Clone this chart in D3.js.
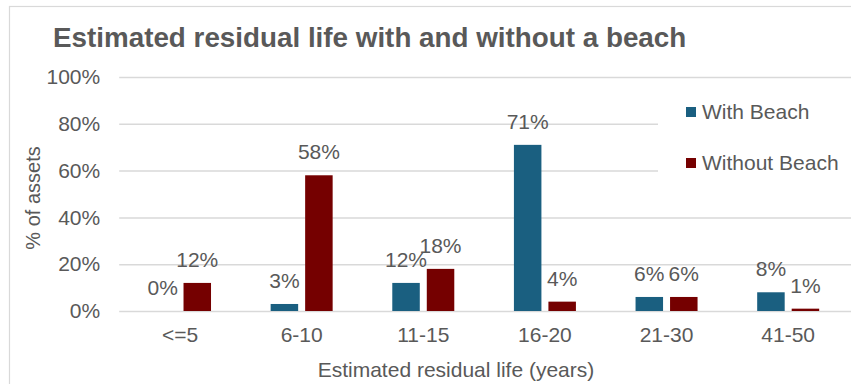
<!DOCTYPE html>
<html>
<head>
<meta charset="utf-8">
<script src="https://cdn.jsdelivr.net/npm/d3@7"></script>
<style>
  html, body { margin: 0; padding: 0; background: #fff; }
  svg { display: block; }
  text { font-family: "Liberation Sans", Arial, sans-serif; fill: #595959; }
</style>
</head>
<body>
<svg id="chart" width="851" height="384"></svg>
<script>
const categories = ["<=5", "6-10", "11-15", "16-20", "21-30", "41-50"];
const withBeach = [0, 3, 12, 71, 6, 8];
const withoutBeach = [12, 58, 18, 4, 6, 1];
const yTicks = [0, 20, 40, 60, 80, 100];
const seriesNames = ["With Beach", "Without Beach"];
const colors = ["#1a5f80", "#750000"];

const svg = d3.select("#chart");

// chart frame (cropped on right and bottom)
svg.append("rect")
  .attr("x", 9.5).attr("y", 6.5)
  .attr("width", 900).attr("height", 420)
  .attr("fill", "#fff").attr("stroke", "#d9d9d9").attr("stroke-width", 1.2);

const plot = { left: 119.2, right: 849, top: 77, bottom: 311 };

const x = d3.scaleBand().domain(categories).range([plot.left, plot.right]).padding(0);
const y = d3.scaleLinear().domain([0, 100]).range([plot.bottom, plot.top]);

// gridlines via axis
const yAxis = d3.axisLeft(y).tickValues(yTicks).tickSize(-(plot.right - plot.left + 2)).tickFormat(d => d + "%").tickPadding(19);
const gy = svg.append("g").attr("transform", `translate(${plot.left},0)`).call(yAxis);
gy.select(".domain").remove();
gy.selectAll(".tick line").attr("stroke", "#d9d9d9").attr("stroke-width", 1.5);
gy.selectAll(".tick text")
  .attr("font-size", "21px").attr("fill", "#595959")
  .style("font-family", '"Liberation Sans", Arial, sans-serif');

// x axis labels
const xAxis = d3.axisBottom(x).tickSize(0).tickPadding(16);
const gx = svg.append("g").attr("transform", `translate(0,${plot.bottom})`).call(xAxis);
gx.select(".domain").remove();
gx.selectAll(".tick text")
  .attr("font-size", "21px").attr("fill", "#595959")
  .style("font-family", '"Liberation Sans", Arial, sans-serif');

const barW = 27.5, gap = 7;
const series = [withBeach, withoutBeach];
series.forEach((vals, si) => {
  const off = si === 0 ? -(gap / 2 + barW) : gap / 2;
  const g = svg.append("g");
  g.selectAll("rect").data(vals).join("rect")
    .attr("x", (d, i) => x.bandwidth() / 2 + x(categories[i]) + off)
    .attr("y", d => y(d))
    .attr("width", barW)
    .attr("height", d => y(0) - y(d))
    .attr("fill", colors[si]);
  g.selectAll("text").data(vals).join("text")
    .attr("x", (d, i) => x.bandwidth() / 2 + x(categories[i]) + off + barW / 2)
    .attr("y", d => y(d) - 16)
    .attr("text-anchor", "middle")
    .attr("font-size", "21px")
    .text(d => d + "%");
});

// legend (white box covering gridlines)
svg.append("rect").attr("x", 658).attr("y", 90).attr("width", 200).attr("height", 110).attr("fill", "#fff");
const legY = [112, 163];
seriesNames.forEach((n, i) => {
  svg.append("rect").attr("x", 686).attr("y", legY[i] - 5).attr("width", 10).attr("height", 10).attr("fill", colors[i]);
  svg.append("text").attr("x", 702).attr("y", legY[i]).attr("dy", "0.35em")
    .attr("font-size", "21px").text(n);
});

// title
svg.append("text").attr("x", 53).attr("y", 47)
  .attr("font-size", "27.8px").attr("font-weight", "bold").text("Estimated residual life with and without a beach");

// axis titles
svg.append("text").attr("x", 456).attr("y", 377).attr("text-anchor", "middle")
  .attr("font-size", "21px").text("Estimated residual life (years)");
svg.append("text").attr("transform", "translate(40,198) rotate(-90)").attr("text-anchor", "middle")
  .attr("font-size", "20px").text("% of assets");
</script>
</body>
</html>
